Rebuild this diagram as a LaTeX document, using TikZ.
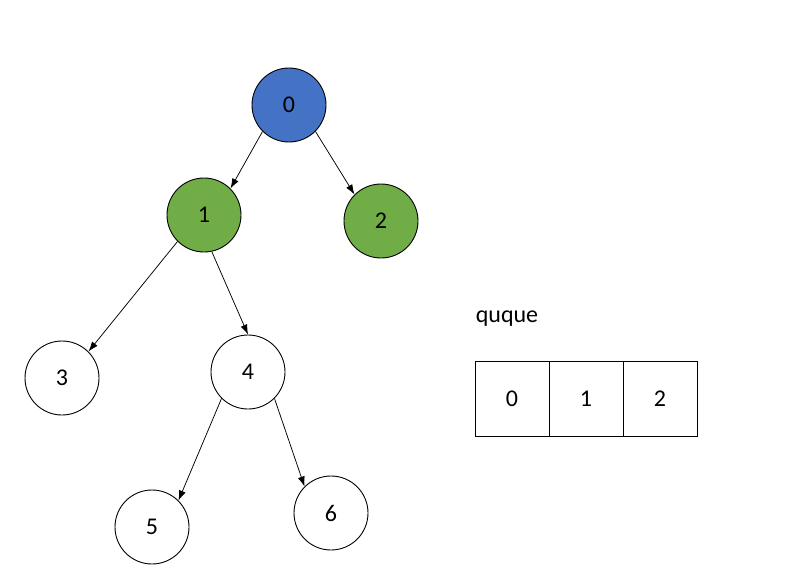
\documentclass[tikz,border=0pt]{standalone}
\usepackage{fontspec}
\setmainfont{Carlito}
\usepackage{tikz}
\definecolor{nodeblue}{RGB}{68,114,196}
\definecolor{nodegreen}{RGB}{112,173,71}
\usetikzlibrary{arrows.meta, shapes}

\begin{document}
\begin{tikzpicture}[knoten/.style={draw, circle, minimum size=74pt, inner sep=0pt, line width=0.9pt, fill=#1},
			knoten/.default=white,
			zelle/.style={draw, rectangle, minimum width=74pt, minimum height=75pt, inner sep=0pt, line width=0.9pt},
			x=1pt, y=-1pt,
			>={Latex[length=10pt,width=7pt]},   %Pfeilspitzen
			font=\fontsize{24}{28}\selectfont]
			%Bildbereich
			\useasboundingbox (0,0) rectangle (790,578);
			% Knoten des Baums
			\node[knoten=nodeblue]  (n0) at (289,105) {0};
			\node[knoten=nodegreen] (n1) at (204,215) {1};
			\node[knoten=nodegreen] (n2) at (381,221) {2};
			\node[knoten] (n3) at (62,378) {3};
			\node[knoten] (n4) at (248,372) {4};
			\node[knoten] (n5) at (152,527) {5};
			\node[knoten] (n6) at (331,513) {6};
			% Kanten zeichnen (Verbindungspunkte)
			\foreach \von/\nach in {n0.south west/n1.north east, n0.south east/n2.north west,
					n1.south west/n3.north east, n1.-78/n4.north,
					n4.south west/n5.north east, n4.south east/n6.north west}
				\draw[->, line width=0.75pt] (\von) -- (\nach);
			% Warteschlange
			\node (titel) at (507,319) {quque};
			\node[zelle] (q0) at (512,398.5) {0};
			\node[zelle] (q1) at (586,398.5) {1};
			\node[zelle] (q2) at (660,398.5) {2};
		\end{tikzpicture}
\end{document}
